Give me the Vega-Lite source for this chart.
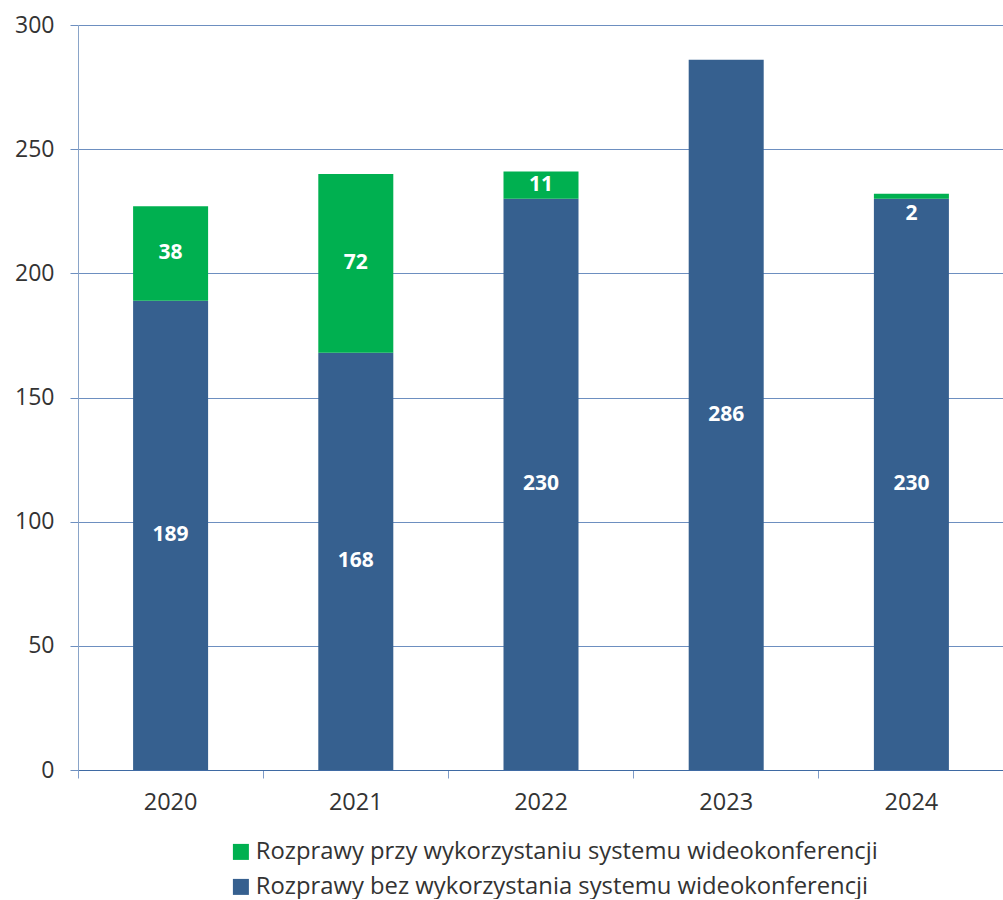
{
  "$schema": "https://vega.github.io/schema/vega-lite/v6.json",
  "width": 926,
  "height": 745,
  "autosize": {"type": "pad"},
  "padding": {"left": 14, "top": 14, "right": 0, "bottom": 0},
  "config": {"font": "Open Sans", "view": {"stroke": null}},
  "data": {"values": [
    {"year": "2020", "series": "Rozprawy bez wykorzystania systemu wideokonferencji", "value": 189},
    {"year": "2020", "series": "Rozprawy przy wykorzystaniu systemu wideokonferencji", "value": 38},
    {"year": "2021", "series": "Rozprawy bez wykorzystania systemu wideokonferencji", "value": 168},
    {"year": "2021", "series": "Rozprawy przy wykorzystaniu systemu wideokonferencji", "value": 72},
    {"year": "2022", "series": "Rozprawy bez wykorzystania systemu wideokonferencji", "value": 230},
    {"year": "2022", "series": "Rozprawy przy wykorzystaniu systemu wideokonferencji", "value": 11},
    {"year": "2023", "series": "Rozprawy bez wykorzystania systemu wideokonferencji", "value": 286},
    {"year": "2024", "series": "Rozprawy bez wykorzystania systemu wideokonferencji", "value": 230},
    {"year": "2024", "series": "Rozprawy przy wykorzystaniu systemu wideokonferencji", "value": 2}
  ]},
  "transform": [
    {"stack": "value", "groupby": ["year"], "sort": [{"field": "series", "order": "ascending"}], "as": ["y0", "y1"]},
    {"calculate": "(datum.y0 + datum.y1) / 2 - (datum.value < 5 ? 7 : 0)", "as": "mid"}
  ],
  "encoding": {
    "x": {
      "field": "year", "type": "ordinal",
      "scale": {"paddingInner": 0, "paddingOuter": 0},
      "axis": {
        "title": null, "labelAngle": 0, "bandPosition": 0,
        "domainColor": "#3f6aa3", "tickColor": "#7f9cc8", "tickSize": 8,
        "labelFontSize": 23.5, "labelColor": "#333333", "labelPadding": 12,
        "labelBound": false
      }
    }
  },
  "layer": [
    {
      "mark": {"type": "bar", "width": {"band": 0.405}},
      "encoding": {
        "y": {
          "field": "y1", "type": "quantitative",
          "scale": {"domain": [0, 300]},
          "axis": {
            "title": null, "values": [0, 50, 100, 150, 200, 250, 300],
            "grid": true, "gridColor": "#6d8fc0", "gridWidth": 1,
            "domainColor": "#8aa4c8", "tickColor": "#6d8fc0", "tickSize": 8,
            "labelFontSize": 23, "labelColor": "#333333", "labelPadding": 16
          }
        },
        "y2": {"field": "y0"},
        "color": {
          "field": "series", "type": "nominal",
          "scale": {
            "domain": ["Rozprawy przy wykorzystaniu systemu wideokonferencji", "Rozprawy bez wykorzystania systemu wideokonferencji"],
            "range": ["#00B050", "#36608F"]
          },
          "legend": {
            "title": null, "orient": "none", "legendX": 151, "legendY": 815,
            "direction": "vertical",
            "symbolType": "square", "symbolSize": 256, "symbolStrokeWidth": 0,
            "labelFontSize": 23.8, "labelColor": "#333333", "rowPadding": 10,
            "labelOffset": 3, "labelLimit": 800
          }
        }
      }
    },
    {
      "mark": {"type": "text", "color": "white", "fontWeight": "bold", "fontSize": 21},
      "encoding": {
        "y": {"field": "mid", "type": "quantitative"},
        "text": {"field": "value", "type": "quantitative"}
      }
    }
  ]
}
